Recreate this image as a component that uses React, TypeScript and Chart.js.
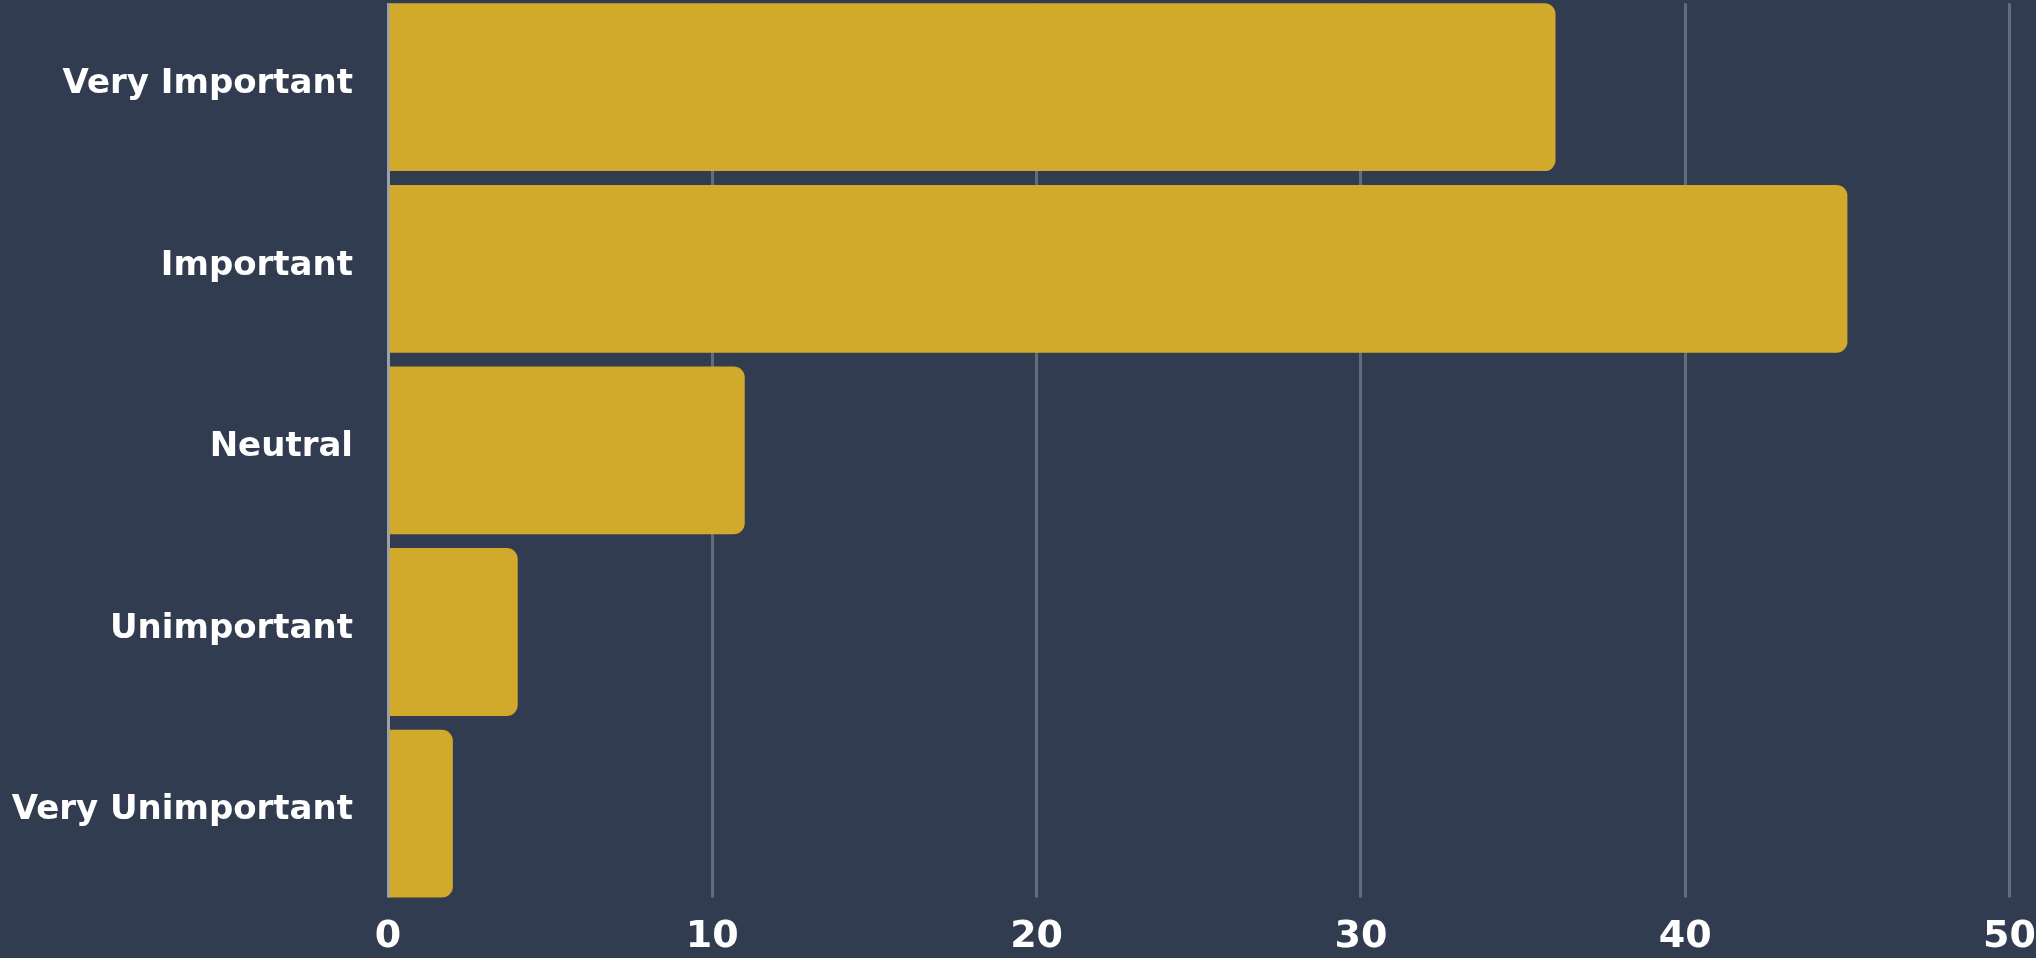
import React, { useEffect, useRef } from "react";
import { Chart, registerables } from "chart.js";

Chart.register(...registerables);

const categories: string[] = [
  "Very Important",
  "Important",
  "Neutral",
  "Unimportant",
  "Very Unimportant",
];
const responseValues: number[] = [36, 45, 11, 4, 2];
const xTickMin = 0;
const xTickMax = 50;
const xTickStep = 10;

const BG = "#323c51";
const BAR = "#d1aa2b";
const GRID = "#646c7c";
const AXIS = "#9aa0ae";
const FONT = "'DejaVu Sans', 'Noto Sans', sans-serif";

const clipGridPlugin = {
  id: "clipGrid",
  beforeDraw(chart: any) {
    const { ctx, chartArea: a, width, height } = chart;
    const meta = chart.getDatasetMeta(0);
    const els = meta && meta.data ? meta.data : [];
    ctx.save();
    if (!els.length) return;
    const first = els[0];
    const last = els[els.length - 1];
    const top = first.y - first.height / 2;
    const bottom = last.y + last.height / 2;
    ctx.beginPath();
    ctx.rect(0, 0, a.left - 4, height);
    ctx.rect(a.left - 4, top, width, bottom - top);
    ctx.rect(0, a.bottom + 1, width, height);
    ctx.clip();
  },
  beforeDatasetsDraw(chart: any) {
    chart.ctx.restore();
  },
};

export default function App() {
  const canvasRef = useRef<HTMLCanvasElement | null>(null);

  useEffect(() => {
    document.body.style.margin = "0";
    document.body.style.overflow = "hidden";
    document.body.style.background = BG;
    const canvas = canvasRef.current;
    if (!canvas) return;
    const chart = new Chart(canvas, {
      type: "bar",
      data: {
        labels: categories,
        datasets: [
          {
            data: responseValues,
            backgroundColor: BAR,
            borderWidth: 0,
            borderSkipped: "start",
            borderRadius: { topLeft: 0, bottomLeft: 0, topRight: 11, bottomRight: 11 },
            barPercentage: 0.924,
            categoryPercentage: 1,
          },
        ],
      },
      plugins: [clipGridPlugin],
      options: {
        indexAxis: "y",
        animation: false,
        responsive: true,
        maintainAspectRatio: false,
        devicePixelRatio: 1,
        layout: { padding: { top: 20.4, left: 0, right: 0, bottom: 0 } },
        plugins: {
          legend: { display: false },
          tooltip: { enabled: false },
          title: { display: false },
        },
        scales: {
          x: {
            type: "linear",
            min: xTickMin,
            max: xTickMax,
            ticks: {
              stepSize: xTickStep,
              color: "#ffffff",
              padding: 10,
              font: { family: FONT, weight: "bold", size: 38 },
            },
            grid: {
              color: GRID,
              lineWidth: 3,
              drawTicks: false,
            },
            border: { display: false },
          },
          y: {
            type: "category",
            afterFit: (scale: any) => {
              scale.width = 388;
            },
            ticks: {
              color: "#ffffff",
              padding: 0,
              labelOffset: -3,
              font: { family: FONT, weight: "bold", size: 34, lineHeight: 1 },
            },
            grid: {
              display: true,
              color: "rgba(0,0,0,0)",
              drawTicks: true,
              tickLength: 35,
              drawOnChartArea: false,
            },
            border: { display: true, color: AXIS, width: 3 },
          },
        },
      },
    });
    return () => chart.destroy();
  }, []);

  return (
    <div
      style={{
        position: "relative",
        width: "2036px",
        height: "958px",
        overflow: "hidden",
        background: BG,
      }}
    >
      <div
        style={{
          position: "absolute",
          left: 0,
          top: "-24px",
          width: "2046px",
          height: "994px",
        }}
      >
        <canvas ref={canvasRef} />
      </div>
    </div>
  );
}
